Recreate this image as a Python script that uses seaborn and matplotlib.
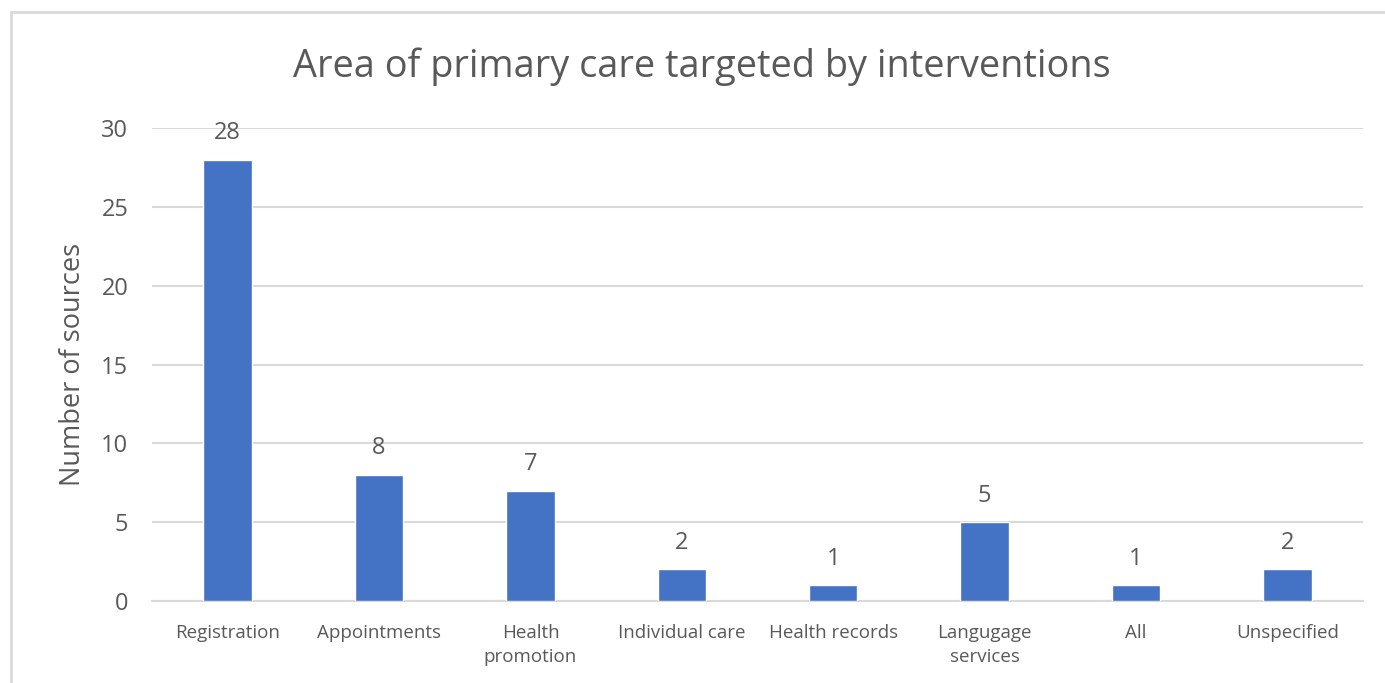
import matplotlib
matplotlib.use("Agg")
import matplotlib.pyplot as plt
import seaborn as sns
import pandas as pd
from matplotlib.patches import Rectangle

# Data
categories = ["Registration", "Appointments", "Health\npromotion", "Individual care",
              "Health records", "Langugage\nservices", "All", "Unspecified"]
counts = [28, 8, 7, 2, 1, 5, 1, 2]
y_ticks = [0, 5, 10, 15, 20, 25, 30]

title = "Area of primary care targeted by interventions"
y_label = "Number of sources"

bar_color = "#4472C4"
text_color = "#595959"
grid_color = "#D9D9D9"

sns.set_theme(style="white")
plt.rcParams["font.family"] = ["Open Sans", "DejaVu Sans"]

df = pd.DataFrame({"category": categories, "count": counts})

fig = plt.figure(figsize=(13.85, 6.83), dpi=100)
ax = fig.add_axes([152 / 1385, 1 - 601 / 683, (1363 - 152) / 1385, (601 - 128) / 683])

sns.barplot(data=df, x="category", y="count", color=bar_color, saturation=1,
            width=0.32, ax=ax, zorder=3)

ax.set_ylim(0, 30)
ax.set_xlim(-0.5, len(categories) - 0.5)
ax.set_yticks(y_ticks)
ax.yaxis.grid(True, color=grid_color, linewidth=1.5, zorder=0)
ax.xaxis.grid(False)
for s in ["top", "right", "left"]:
    ax.spines[s].set_visible(False)
ax.spines["bottom"].set_color(grid_color)
ax.spines["bottom"].set_linewidth(1.5)
ax.spines["bottom"].set_zorder(1)

ax.tick_params(axis="y", length=0, pad=17, labelsize=17, labelcolor=text_color)
ax.tick_params(axis="x", length=0, pad=16.5, labelsize=13.5, labelcolor=text_color)
for lbl in ax.get_xticklabels():
    lbl.set_linespacing(1.45)
ax.set_xlabel("")
ax.set_ylabel(y_label, fontsize=19.5, color=text_color, labelpad=10)

for container in ax.containers:
    ax.bar_label(container, labels=[str(v) for v in counts], padding=10.5,
                 fontsize=17, color=text_color)

fig.text(702 / 1385, 1 - 67 / 683, title, ha="center", va="center",
         fontsize=27.3, color=text_color)

# Chart-area border
fig.patches.append(Rectangle((11 / 1385, -0.05), 1.1, 1 - 12 / 683 + 0.05,
                             transform=fig.transFigure, fill=False,
                             edgecolor="#D9D9D9", linewidth=2))

fig.savefig("out.png", dpi=100, facecolor="white")
